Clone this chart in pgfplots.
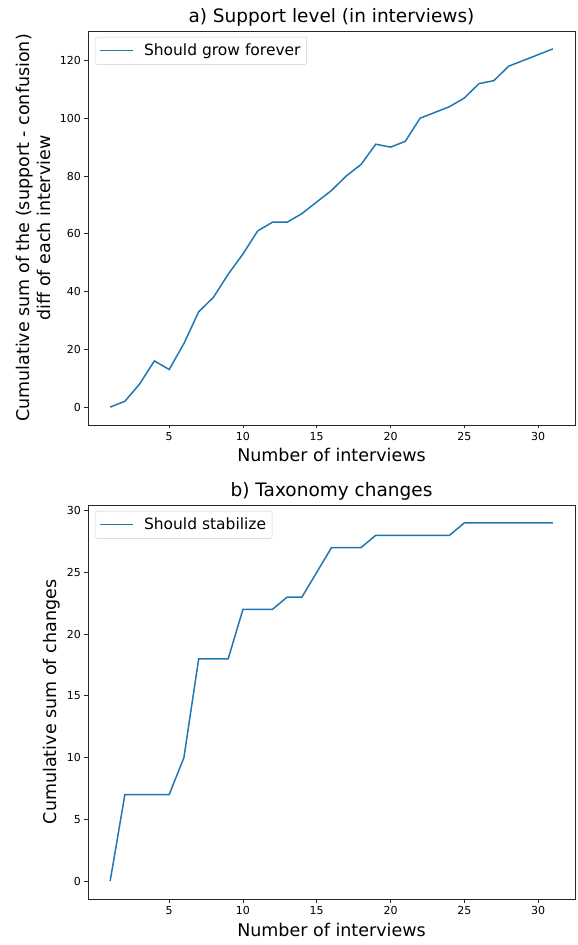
\documentclass[border=0pt]{standalone}
\usepackage{pgfplots}
\pgfplotsset{compat=1.18}
\usepackage{fontspec}
\setmainfont{DejaVu Sans}
\definecolor{mplblue}{HTML}{1F77B4}
\pgfplotsset{
  mystyle/.style={
    scale only axis,
    width=487pt, height=394pt,
    xmin=-0.5, xmax=32.5,
    xtick={5,10,15,20,25,30},
    tick align=outside,
    major tick length=3.5pt,
    xtick pos=bottom, ytick pos=left,
    tick style={black!85, line width=0.8pt},
    axis line style={black!85, line width=0.8pt},
    ticklabel style={font=\fontsize{11}{13}\selectfont},
    /pgf/number format/assume math mode=true,
    label style={font=\fontsize{17.5}{21}\selectfont},
    title style={font=\fontsize{18.5}{22}\selectfont, yshift=-5pt},
    legend style={at={(0.015,0.985)}, anchor=north west, draw=black!20, rounded corners=2pt,
      font=\fontsize{15.5}{18}\selectfont, inner xsep=4pt, inner ysep=5pt},
    legend cell align=left,
    legend image code/.code={\draw[mplblue, line width=1.5pt] (0pt,0pt) -- (33pt,0pt); \path (41pt,0pt);},
  }
}
\begin{document}
\begin{tikzpicture}
\path[use as bounding box] (-88pt,-46pt) rectangle (490pt,899pt);
\begin{axis}[mystyle, at={(0pt,474pt)}, anchor=south west,
  ymin=-6.2, ymax=130.2, ytick={0,20,40,60,80,100,120},
  title={a) Support level (in interviews)},
  xlabel={Number of interviews},
  ylabel={Cumulative sum of the (support - confusion)\\diff of each interview},
  ylabel style={align=center, yshift=2pt},
  xlabel style={yshift=-1pt}]
\addplot[mplblue, line width=1.5pt] coordinates {
(1,0) (2,2) (3,8) (4,16) (5,13) (6,22) (7,33) (8,38) (9,46) (10,53)
(11,61) (12,64) (13,64) (14,67) (15,71) (16,75) (17,80) (18,84) (19,91) (20,90)
(21,92) (22,100) (23,102) (24,104) (25,107) (26,112) (27,113) (28,118) (29,120) (30,122) (31,124)};
\addlegendentry{Should grow forever}
\end{axis}
\begin{axis}[mystyle, at={(0pt,0pt)}, anchor=south west,
  ymin=-1.45, ymax=30.45, ytick={0,5,10,15,20,25,30},
  title={b) Taxonomy changes},
  xlabel={Number of interviews},
  ylabel={Cumulative sum of changes},
  xlabel style={yshift=-2pt}]
\addplot[mplblue, line width=1.5pt] coordinates {
(1,0) (2,7) (3,7) (4,7) (5,7) (6,10) (7,18) (8,18) (9,18) (10,22)
(11,22) (12,22) (13,23) (14,23) (15,25) (16,27) (17,27) (18,27) (19,28) (20,28)
(21,28) (22,28) (23,28) (24,28) (25,29) (26,29) (27,29) (28,29) (29,29) (30,29) (31,29)};
\addlegendentry{Should stabilize}
\end{axis}
\end{tikzpicture}
\end{document}
